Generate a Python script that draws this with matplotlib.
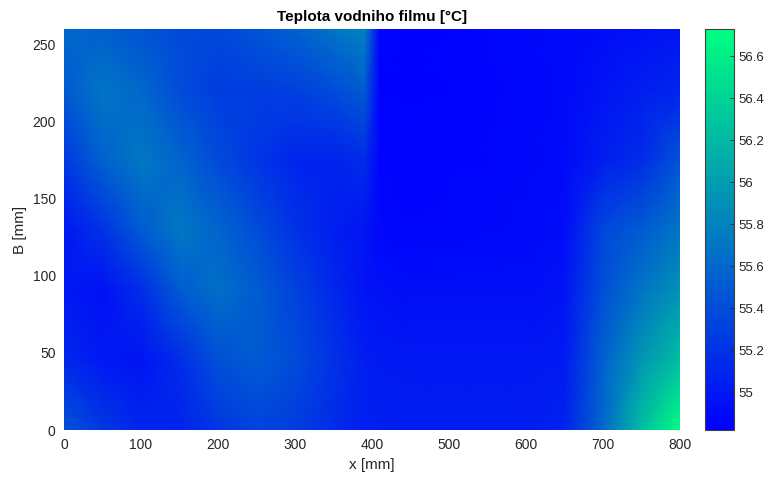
import numpy as np
import matplotlib.pyplot as plt
from matplotlib.ticker import FormatStrFormatter

plt.rcParams['font.family'] = ['Liberation Sans', 'DejaVu Sans']

# grid of the measured points [mm]
x_mm = [0, 50, 100, 150, 200, 250, 300, 350, 390, 410, 450, 500, 550, 600, 650, 700, 750, 800]
b_mm = [0, 45, 90, 130, 175, 220, 260]

# water film temperature [°C], one list per row of b_mm
t_b0 = [55.45, 55.25, 55.10, 55.08, 55.22, 55.32, 55.28, 55.15, 55.05, 55.05, 55.03, 55.03, 55.03, 55.03, 55.08, 55.60, 56.25, 56.73]
t_b45 = [55.12, 55.00, 54.97, 55.15, 55.42, 55.50, 55.38, 55.20, 55.05, 55.02, 55.00, 55.00, 55.00, 55.00, 55.02, 55.55, 55.95, 56.25]
t_b90 = [55.00, 54.95, 55.15, 55.50, 55.65, 55.52, 55.32, 55.12, 54.97, 54.95, 54.93, 54.93, 54.93, 54.93, 54.97, 55.42, 55.70, 55.92]
t_b130 = [55.00, 55.20, 55.50, 55.72, 55.58, 55.40, 55.20, 55.05, 54.98, 54.88, 54.86, 54.87, 54.88, 54.90, 54.92, 55.35, 55.50, 55.70]
t_b175 = [55.25, 55.55, 55.72, 55.58, 55.38, 55.22, 55.10, 55.08, 55.15, 54.85, 54.84, 54.85, 54.86, 54.88, 54.90, 55.05, 55.15, 55.45]
t_b220 = [55.50, 55.70, 55.60, 55.40, 55.28, 55.28, 55.30, 55.38, 55.50, 54.83, 54.82, 54.83, 54.85, 54.87, 54.90, 54.97, 55.05, 55.10]
t_b260 = [55.60, 55.55, 55.45, 55.38, 55.35, 55.45, 55.55, 55.70, 55.80, 54.85, 54.82, 54.83, 54.86, 54.88, 54.90, 54.92, 54.95, 54.97]

T = np.array([t_b0, t_b45, t_b90, t_b130, t_b175, t_b220, t_b260])
X, B = np.meshgrid(x_mm, b_mm)

fig = plt.figure(figsize=(7.67, 4.78), dpi=100)
ax = fig.add_axes([64 / 767, 48 / 478, 616 / 767, 401 / 478])
cax = fig.add_axes([705 / 767, 48 / 478, 29 / 767, 401 / 478])

mesh = ax.pcolormesh(X, B, T, shading='gouraud', cmap='winter')
ax.set_xlim(0, 800)
ax.set_ylim(0, 260)
ax.set_xticks(range(0, 801, 100))
ax.set_yticks(range(0, 251, 50))
ax.tick_params(length=0, labelsize=10, labelcolor='#262626', pad=6)
for s in ax.spines.values():
    s.set_visible(False)
ax.set_xlabel('x [mm]', fontsize=11, color='#262626')
ax.set_ylabel('B [mm]', fontsize=11, color='#262626')
ax.set_title('Teplota vodniho filmu [°C]', fontsize=11, fontweight='bold', pad=6)

cb = fig.colorbar(mesh, cax=cax)
cb.set_ticks(np.arange(55, 56.61, 0.2))
cb.ax.yaxis.set_major_formatter(FormatStrFormatter('%g'))
cb.ax.tick_params(labelsize=9.5, labelcolor='#262626', length=3, width=0.6,
                  color='#262626', direction='in', pad=3)
cb.outline.set_edgecolor('#404040')
cb.outline.set_linewidth(0.8)

fig.savefig('out.png', dpi=100)
